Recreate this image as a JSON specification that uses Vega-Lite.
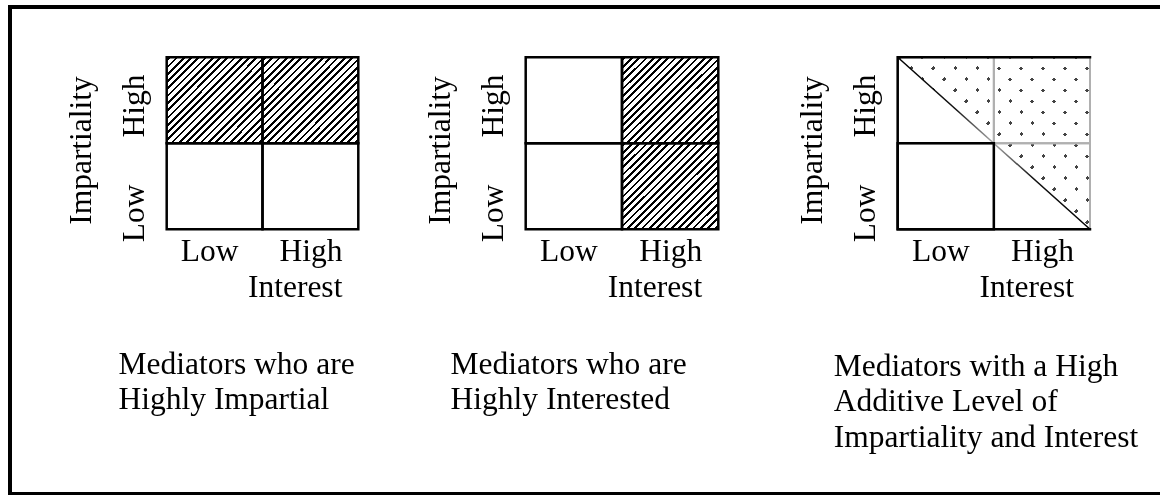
{
  "$schema": "https://vega.github.io/schema/vega-lite/v6.json",
  "width": 1152,
  "height": 487,
  "autosize": "none",
  "padding": {"left": 10, "top": 7, "right": -2, "bottom": 1},
  "background": "white",
  "config": {
    "view": {"stroke": "black", "strokeWidth": 4},
    "axis": {
      "domain": false, "ticks": false, "grid": false,
      "labelFont": "Liberation Serif", "labelFontSize": 31.5, "labelColor": "black",
      "titleFont": "Liberation Serif", "titleFontSize": 31.5, "titleFontWeight": "normal", "titleColor": "black",
      "titleLimit": 2000, "labelLimit": 2000, "labelOverlap": false
    }
  },
  "datasets": {
    "cells": [
      {"panel": 1, "interest": "Low", "impartiality": "High", "shade": "hatched"},
      {"panel": 1, "interest": "High", "impartiality": "High", "shade": "hatched"},
      {"panel": 1, "interest": "Low", "impartiality": "Low", "shade": "none"},
      {"panel": 1, "interest": "High", "impartiality": "Low", "shade": "none"},
      {"panel": 2, "interest": "Low", "impartiality": "High", "shade": "none"},
      {"panel": 2, "interest": "High", "impartiality": "High", "shade": "hatched"},
      {"panel": 2, "interest": "Low", "impartiality": "Low", "shade": "none"},
      {"panel": 2, "interest": "High", "impartiality": "Low", "shade": "hatched"},
      {"panel": 3, "interest": "Low", "impartiality": "High", "shade": "half"},
      {"panel": 3, "interest": "High", "impartiality": "High", "shade": "dotted"},
      {"panel": 3, "interest": "Low", "impartiality": "Low", "shade": "none"},
      {"panel": 3, "interest": "High", "impartiality": "Low", "shade": "half"}
    ],
    "triangle": [
      {"interest": 0, "upper": 2, "lower": 2},
      {"interest": 2, "upper": 2, "lower": 0}
    ],
    "diagonal": [
      {"interest": 0, "impartiality": 2},
      {"interest": 2, "impartiality": 0}
    ],
    "frame": [
      {"order": 1, "interest": 2, "impartiality": 0},
      {"order": 2, "interest": 0, "impartiality": 0},
      {"order": 3, "interest": 0, "impartiality": 2},
      {"order": 4, "interest": 2, "impartiality": 2}
    ]
  },
  "layer": [
    {
      "data": {"name": "cells"},
      "transform": [{"filter": "datum.panel === 1"}],
      "encoding": {
        "x": {"field": "interest", "type": "nominal",
          "scale": {"domain": ["Low", "High"], "range": [156.7, 348.3], "paddingInner": 0, "paddingOuter": 0},
          "axis": {"orient": "bottom", "offset": -264.7,
            "labelExpr": "datum.value === 'High' ? ['High', 'Interest'] : datum.value",
            "labelAlign": {"condition": {"test": "datum.value === 'High'", "value": "right"}, "value": "center"},
            "labelOffset": {"condition": {"test": "datum.value === 'High'", "value": 32}, "value": -5},
            "labelBaseline": "alphabetic", "labelPadding": 30.7, "labelLineHeight": 36.5, "labelAngle": 0,
            "title": ["Mediators who are", "Highly Impartial"],
            "titleAlign": "left", "titleBaseline": "alphabetic", "titleX": 108, "titleY": 143.7, "titleLineHeight": 35.5}},
        "y": {"field": "impartiality", "type": "nominal",
          "scale": {"domain": ["High", "Low"], "range": [50.3, 222.3], "paddingInner": 0, "paddingOuter": 0},
          "axis": {"orient": "left", "offset": -156.7,
            "title": "Impartiality", "titleAngle": 270, "titleAlign": "center", "titleBaseline": "alphabetic", "titleX": -76.5, "titleY": 143,
            "labelAngle": 270, "labelAlign": "center", "labelBaseline": "alphabetic", "labelPadding": 23.7,
            "labelOffset": {"condition": {"test": "datum.value === 'Low'", "value": 27}, "value": 5.7}}}
      },
      "layer": [
        {"transform": [{"filter": "datum.shade === 'hatched'"}],
         "mark": {"type": "rect", "strokeWidth": 0, "fill": {"gradient": "linear", "x1": 0, "y1": 0, "x2": 1.052, "y2": 0.942, "stops": [
{"offset":0,"color":"white"},
{"offset":0.01,"color":"white"},{"offset":0.01,"color":"black"},{"offset":0.025,"color":"black"},{"offset":0.025,"color":"white"},
{"offset":0.05,"color":"white"},{"offset":0.05,"color":"black"},{"offset":0.065,"color":"black"},{"offset":0.065,"color":"white"},
{"offset":0.09,"color":"white"},{"offset":0.09,"color":"black"},{"offset":0.105,"color":"black"},{"offset":0.105,"color":"white"},
{"offset":0.13,"color":"white"},{"offset":0.13,"color":"black"},{"offset":0.145,"color":"black"},{"offset":0.145,"color":"white"},
{"offset":0.17,"color":"white"},{"offset":0.17,"color":"black"},{"offset":0.185,"color":"black"},{"offset":0.185,"color":"white"},
{"offset":0.21,"color":"white"},{"offset":0.21,"color":"black"},{"offset":0.225,"color":"black"},{"offset":0.225,"color":"white"},
{"offset":0.25,"color":"white"},{"offset":0.25,"color":"black"},{"offset":0.265,"color":"black"},{"offset":0.265,"color":"white"},
{"offset":0.29,"color":"white"},{"offset":0.29,"color":"black"},{"offset":0.305,"color":"black"},{"offset":0.305,"color":"white"},
{"offset":0.33,"color":"white"},{"offset":0.33,"color":"black"},{"offset":0.345,"color":"black"},{"offset":0.345,"color":"white"},
{"offset":0.37,"color":"white"},{"offset":0.37,"color":"black"},{"offset":0.385,"color":"black"},{"offset":0.385,"color":"white"},
{"offset":0.41,"color":"white"},{"offset":0.41,"color":"black"},{"offset":0.425,"color":"black"},{"offset":0.425,"color":"white"},
{"offset":0.45,"color":"white"},{"offset":0.45,"color":"black"},{"offset":0.465,"color":"black"},{"offset":0.465,"color":"white"},
{"offset":0.49,"color":"white"},{"offset":0.49,"color":"black"},{"offset":0.505,"color":"black"},{"offset":0.505,"color":"white"},
{"offset":0.53,"color":"white"},{"offset":0.53,"color":"black"},{"offset":0.545,"color":"black"},{"offset":0.545,"color":"white"},
{"offset":0.57,"color":"white"},{"offset":0.57,"color":"black"},{"offset":0.585,"color":"black"},{"offset":0.585,"color":"white"},
{"offset":0.61,"color":"white"},{"offset":0.61,"color":"black"},{"offset":0.625,"color":"black"},{"offset":0.625,"color":"white"},
{"offset":0.65,"color":"white"},{"offset":0.65,"color":"black"},{"offset":0.665,"color":"black"},{"offset":0.665,"color":"white"},
{"offset":0.69,"color":"white"},{"offset":0.69,"color":"black"},{"offset":0.705,"color":"black"},{"offset":0.705,"color":"white"},
{"offset":0.73,"color":"white"},{"offset":0.73,"color":"black"},{"offset":0.745,"color":"black"},{"offset":0.745,"color":"white"},
{"offset":0.77,"color":"white"},{"offset":0.77,"color":"black"},{"offset":0.785,"color":"black"},{"offset":0.785,"color":"white"},
{"offset":0.81,"color":"white"},{"offset":0.81,"color":"black"},{"offset":0.825,"color":"black"},{"offset":0.825,"color":"white"},
{"offset":0.85,"color":"white"},{"offset":0.85,"color":"black"},{"offset":0.865,"color":"black"},{"offset":0.865,"color":"white"},
{"offset":0.89,"color":"white"},{"offset":0.89,"color":"black"},{"offset":0.905,"color":"black"},{"offset":0.905,"color":"white"},
{"offset":0.93,"color":"white"},{"offset":0.93,"color":"black"},{"offset":0.945,"color":"black"},{"offset":0.945,"color":"white"},
{"offset":0.97,"color":"white"},{"offset":0.97,"color":"black"},{"offset":0.985,"color":"black"},{"offset":0.985,"color":"white"},
{"offset":1,"color":"white"}]}}},
        {"mark": {"type": "rect", "filled": false, "stroke": "black", "strokeWidth": 2.5}}
      ]
    },
    {
      "data": {"name": "cells"},
      "transform": [{"filter": "datum.panel === 2"}],
      "encoding": {
        "x": {"field": "interest", "type": "nominal",
          "scale": {"domain": ["Low", "High"], "range": [515.7, 708.3], "paddingInner": 0, "paddingOuter": 0},
          "axis": {"orient": "bottom", "offset": -264.7,
            "labelExpr": "datum.value === 'High' ? ['High', 'Interest'] : datum.value",
            "labelAlign": {"condition": {"test": "datum.value === 'High'", "value": "right"}, "value": "center"},
            "labelOffset": {"condition": {"test": "datum.value === 'High'", "value": 32}, "value": -5},
            "labelBaseline": "alphabetic", "labelPadding": 30.7, "labelLineHeight": 36.5, "labelAngle": 0,
            "title": ["Mediators who are", "Highly Interested"],
            "titleAlign": "left", "titleBaseline": "alphabetic", "titleX": 440, "titleY": 143.7, "titleLineHeight": 35.5}},
        "y": {"field": "impartiality", "type": "nominal",
          "scale": {"domain": ["High", "Low"], "range": [50.3, 222.3], "paddingInner": 0, "paddingOuter": 0},
          "axis": {"orient": "left", "offset": -515.7,
            "title": "Impartiality", "titleAngle": 270, "titleAlign": "center", "titleBaseline": "alphabetic", "titleX": -76, "titleY": 143,
            "labelAngle": 270, "labelAlign": "center", "labelBaseline": "alphabetic", "labelPadding": 23.7,
            "labelOffset": {"condition": {"test": "datum.value === 'Low'", "value": 27}, "value": 5.7}}}
      },
      "layer": [
        {"transform": [{"filter": "datum.shade === 'hatched'"}],
         "mark": {"type": "rect", "strokeWidth": 0, "fill": {"gradient": "linear", "x1": 0, "y1": 0, "x2": 1.052, "y2": 0.942, "stops": [
{"offset":0,"color":"white"},
{"offset":0.01,"color":"white"},{"offset":0.01,"color":"black"},{"offset":0.025,"color":"black"},{"offset":0.025,"color":"white"},
{"offset":0.05,"color":"white"},{"offset":0.05,"color":"black"},{"offset":0.065,"color":"black"},{"offset":0.065,"color":"white"},
{"offset":0.09,"color":"white"},{"offset":0.09,"color":"black"},{"offset":0.105,"color":"black"},{"offset":0.105,"color":"white"},
{"offset":0.13,"color":"white"},{"offset":0.13,"color":"black"},{"offset":0.145,"color":"black"},{"offset":0.145,"color":"white"},
{"offset":0.17,"color":"white"},{"offset":0.17,"color":"black"},{"offset":0.185,"color":"black"},{"offset":0.185,"color":"white"},
{"offset":0.21,"color":"white"},{"offset":0.21,"color":"black"},{"offset":0.225,"color":"black"},{"offset":0.225,"color":"white"},
{"offset":0.25,"color":"white"},{"offset":0.25,"color":"black"},{"offset":0.265,"color":"black"},{"offset":0.265,"color":"white"},
{"offset":0.29,"color":"white"},{"offset":0.29,"color":"black"},{"offset":0.305,"color":"black"},{"offset":0.305,"color":"white"},
{"offset":0.33,"color":"white"},{"offset":0.33,"color":"black"},{"offset":0.345,"color":"black"},{"offset":0.345,"color":"white"},
{"offset":0.37,"color":"white"},{"offset":0.37,"color":"black"},{"offset":0.385,"color":"black"},{"offset":0.385,"color":"white"},
{"offset":0.41,"color":"white"},{"offset":0.41,"color":"black"},{"offset":0.425,"color":"black"},{"offset":0.425,"color":"white"},
{"offset":0.45,"color":"white"},{"offset":0.45,"color":"black"},{"offset":0.465,"color":"black"},{"offset":0.465,"color":"white"},
{"offset":0.49,"color":"white"},{"offset":0.49,"color":"black"},{"offset":0.505,"color":"black"},{"offset":0.505,"color":"white"},
{"offset":0.53,"color":"white"},{"offset":0.53,"color":"black"},{"offset":0.545,"color":"black"},{"offset":0.545,"color":"white"},
{"offset":0.57,"color":"white"},{"offset":0.57,"color":"black"},{"offset":0.585,"color":"black"},{"offset":0.585,"color":"white"},
{"offset":0.61,"color":"white"},{"offset":0.61,"color":"black"},{"offset":0.625,"color":"black"},{"offset":0.625,"color":"white"},
{"offset":0.65,"color":"white"},{"offset":0.65,"color":"black"},{"offset":0.665,"color":"black"},{"offset":0.665,"color":"white"},
{"offset":0.69,"color":"white"},{"offset":0.69,"color":"black"},{"offset":0.705,"color":"black"},{"offset":0.705,"color":"white"},
{"offset":0.73,"color":"white"},{"offset":0.73,"color":"black"},{"offset":0.745,"color":"black"},{"offset":0.745,"color":"white"},
{"offset":0.77,"color":"white"},{"offset":0.77,"color":"black"},{"offset":0.785,"color":"black"},{"offset":0.785,"color":"white"},
{"offset":0.81,"color":"white"},{"offset":0.81,"color":"black"},{"offset":0.825,"color":"black"},{"offset":0.825,"color":"white"},
{"offset":0.85,"color":"white"},{"offset":0.85,"color":"black"},{"offset":0.865,"color":"black"},{"offset":0.865,"color":"white"},
{"offset":0.89,"color":"white"},{"offset":0.89,"color":"black"},{"offset":0.905,"color":"black"},{"offset":0.905,"color":"white"},
{"offset":0.93,"color":"white"},{"offset":0.93,"color":"black"},{"offset":0.945,"color":"black"},{"offset":0.945,"color":"white"},
{"offset":0.97,"color":"white"},{"offset":0.97,"color":"black"},{"offset":0.985,"color":"black"},{"offset":0.985,"color":"white"},
{"offset":1,"color":"white"}]}}},
        {"mark": {"type": "rect", "filled": false, "stroke": "black", "strokeWidth": 2.5}}
      ]
    },
    {
      "layer": [
        {
          "data": {"name": "triangle"},
          "mark": {"type": "area", "fill": {"gradient": "linear", "x1": 0, "y1": 0, "x2": 1.0524, "y2": 0.9413, "stops": [
{"offset":0,"color":"white"},
{"offset":0.0016,"color":"white"},{"offset":0.0016,"color":"#444444"},{"offset":0.0126,"color":"#444444"},{"offset":0.0126,"color":"white"},
{"offset":0.062,"color":"white"},{"offset":0.062,"color":"#444444"},{"offset":0.073,"color":"#444444"},{"offset":0.073,"color":"white"},
{"offset":0.1224,"color":"white"},{"offset":0.1224,"color":"#444444"},{"offset":0.1334,"color":"#444444"},{"offset":0.1334,"color":"white"},
{"offset":0.1828,"color":"white"},{"offset":0.1828,"color":"#444444"},{"offset":0.1938,"color":"#444444"},{"offset":0.1938,"color":"white"},
{"offset":0.2432,"color":"white"},{"offset":0.2432,"color":"#444444"},{"offset":0.2542,"color":"#444444"},{"offset":0.2542,"color":"white"},
{"offset":0.3036,"color":"white"},{"offset":0.3036,"color":"#444444"},{"offset":0.3146,"color":"#444444"},{"offset":0.3146,"color":"white"},
{"offset":0.364,"color":"white"},{"offset":0.364,"color":"#444444"},{"offset":0.375,"color":"#444444"},{"offset":0.375,"color":"white"},
{"offset":0.4244,"color":"white"},{"offset":0.4244,"color":"#444444"},{"offset":0.4354,"color":"#444444"},{"offset":0.4354,"color":"white"},
{"offset":0.4848,"color":"white"},{"offset":0.4848,"color":"#444444"},{"offset":0.4958,"color":"#444444"},{"offset":0.4958,"color":"white"},
{"offset":0.5452,"color":"white"},{"offset":0.5452,"color":"#444444"},{"offset":0.5562,"color":"#444444"},{"offset":0.5562,"color":"white"},
{"offset":0.6055,"color":"white"},{"offset":0.6055,"color":"#444444"},{"offset":0.6165,"color":"#444444"},{"offset":0.6165,"color":"white"},
{"offset":0.6659,"color":"white"},{"offset":0.6659,"color":"#444444"},{"offset":0.6769,"color":"#444444"},{"offset":0.6769,"color":"white"},
{"offset":0.7263,"color":"white"},{"offset":0.7263,"color":"#444444"},{"offset":0.7373,"color":"#444444"},{"offset":0.7373,"color":"white"},
{"offset":0.7867,"color":"white"},{"offset":0.7867,"color":"#444444"},{"offset":0.7977,"color":"#444444"},{"offset":0.7977,"color":"white"},
{"offset":0.8471,"color":"white"},{"offset":0.8471,"color":"#444444"},{"offset":0.8581,"color":"#444444"},{"offset":0.8581,"color":"white"},
{"offset":0.9075,"color":"white"},{"offset":0.9075,"color":"#444444"},{"offset":0.9185,"color":"#444444"},{"offset":0.9185,"color":"white"},
{"offset":0.9679,"color":"white"},{"offset":0.9679,"color":"#444444"},{"offset":0.9789,"color":"#444444"},{"offset":0.9789,"color":"white"},
{"offset":1,"color":"white"}]}},
          "encoding": {
            "x": {"field": "interest", "type": "quantitative", "scale": {"domain": [0, 2], "range": [887.7, 1080], "nice": false, "zero": false}, "axis": null},
            "y": {"field": "upper", "type": "quantitative", "scale": {"domain": [0, 2], "range": [222.3, 50.3], "nice": false, "zero": false}, "axis": null},
            "y2": {"field": "lower"}
          }
        },
        {
          "data": {"name": "triangle"},
          "mark": {"type": "area", "blend": "lighten", "fill": {"gradient": "linear", "x1": 0, "y1": 1, "x2": 1.0524, "y2": 0.0587, "stops": [
{"offset":0,"color":"white"},
{"offset":0.0511,"color":"white"},{"offset":0.0511,"color":"#444444"},{"offset":0.0621,"color":"#444444"},{"offset":0.0621,"color":"white"},
{"offset":0.1114,"color":"white"},{"offset":0.1114,"color":"#444444"},{"offset":0.1224,"color":"#444444"},{"offset":0.1224,"color":"white"},
{"offset":0.1718,"color":"white"},{"offset":0.1718,"color":"#444444"},{"offset":0.1828,"color":"#444444"},{"offset":0.1828,"color":"white"},
{"offset":0.2322,"color":"white"},{"offset":0.2322,"color":"#444444"},{"offset":0.2432,"color":"#444444"},{"offset":0.2432,"color":"white"},
{"offset":0.2926,"color":"white"},{"offset":0.2926,"color":"#444444"},{"offset":0.3036,"color":"#444444"},{"offset":0.3036,"color":"white"},
{"offset":0.353,"color":"white"},{"offset":0.353,"color":"#444444"},{"offset":0.364,"color":"#444444"},{"offset":0.364,"color":"white"},
{"offset":0.4134,"color":"white"},{"offset":0.4134,"color":"#444444"},{"offset":0.4244,"color":"#444444"},{"offset":0.4244,"color":"white"},
{"offset":0.4738,"color":"white"},{"offset":0.4738,"color":"#444444"},{"offset":0.4848,"color":"#444444"},{"offset":0.4848,"color":"white"},
{"offset":0.5342,"color":"white"},{"offset":0.5342,"color":"#444444"},{"offset":0.5452,"color":"#444444"},{"offset":0.5452,"color":"white"},
{"offset":0.5946,"color":"white"},{"offset":0.5946,"color":"#444444"},{"offset":0.6056,"color":"#444444"},{"offset":0.6056,"color":"white"},
{"offset":0.655,"color":"white"},{"offset":0.655,"color":"#444444"},{"offset":0.666,"color":"#444444"},{"offset":0.666,"color":"white"},
{"offset":0.7153,"color":"white"},{"offset":0.7153,"color":"#444444"},{"offset":0.7263,"color":"#444444"},{"offset":0.7263,"color":"white"},
{"offset":0.7757,"color":"white"},{"offset":0.7757,"color":"#444444"},{"offset":0.7867,"color":"#444444"},{"offset":0.7867,"color":"white"},
{"offset":0.8361,"color":"white"},{"offset":0.8361,"color":"#444444"},{"offset":0.8471,"color":"#444444"},{"offset":0.8471,"color":"white"},
{"offset":0.8965,"color":"white"},{"offset":0.8965,"color":"#444444"},{"offset":0.9075,"color":"#444444"},{"offset":0.9075,"color":"white"},
{"offset":0.9569,"color":"white"},{"offset":0.9569,"color":"#444444"},{"offset":0.9679,"color":"#444444"},{"offset":0.9679,"color":"white"},
{"offset":1,"color":"white"}]}},
          "encoding": {
            "x": {"field": "interest", "type": "quantitative", "scale": {"domain": [0, 2], "range": [887.7, 1080], "nice": false, "zero": false}, "axis": null},
            "y": {"field": "upper", "type": "quantitative", "scale": {"domain": [0, 2], "range": [222.3, 50.3], "nice": false, "zero": false}, "axis": null},
            "y2": {"field": "lower"}
          }
        },
        {
          "data": {"name": "cells"},
          "transform": [{"filter": "datum.panel === 3"}],
          "mark": {"type": "rect", "filled": false, "stroke": "#b0b0b0", "strokeWidth": 2},
          "encoding": {
            "x": {"field": "interest", "type": "nominal",
              "scale": {"domain": ["Low", "High"], "range": [887.7, 1080], "paddingInner": 0, "paddingOuter": 0},
              "axis": {"orient": "bottom", "offset": -264.7,
                "labelExpr": "datum.value === 'High' ? ['High', 'Interest'] : datum.value",
                "labelAlign": {"condition": {"test": "datum.value === 'High'", "value": "right"}, "value": "center"},
                "labelOffset": {"condition": {"test": "datum.value === 'High'", "value": 32}, "value": -5},
                "labelBaseline": "alphabetic", "labelPadding": 30.7, "labelLineHeight": 36.5, "labelAngle": 0,
                "title": ["Mediators with a High", "Additive Level of", "Impartiality and Interest"],
                "titleAlign": "left", "titleBaseline": "alphabetic", "titleX": 823.3, "titleY": 145.7, "titleLineHeight": 35.5}},
            "y": {"field": "impartiality", "type": "nominal",
              "scale": {"domain": ["High", "Low"], "range": [50.3, 222.3], "paddingInner": 0, "paddingOuter": 0},
              "axis": {"orient": "left", "offset": -887.7,
                "title": "Impartiality", "titleAngle": 270, "titleAlign": "center", "titleBaseline": "alphabetic", "titleX": -76, "titleY": 143,
                "labelAngle": 270, "labelAlign": "center", "labelBaseline": "alphabetic", "labelPadding": 23.7,
                "labelOffset": {"condition": {"test": "datum.value === 'Low'", "value": 27}, "value": 5.7}}}
          }
        },
        {
          "data": {"name": "diagonal"},
          "mark": {"type": "line", "strokeWidth": 1.5, "stroke": {"gradient": "linear", "x1": 0, "y1": 0, "x2": 1, "y2": 1, "stops": [
            {"offset": 0, "color": "black"}, {"offset": 0.3, "color": "#111111"}, {"offset": 0.5, "color": "#aaaaaa"}, {"offset": 0.7, "color": "#111111"}, {"offset": 1, "color": "black"}]}},
          "encoding": {
            "x": {"field": "interest", "type": "quantitative", "scale": {"domain": [0, 2], "range": [887.7, 1080], "nice": false, "zero": false}, "axis": null},
            "y": {"field": "impartiality", "type": "quantitative", "scale": {"domain": [0, 2], "range": [222.3, 50.3], "nice": false, "zero": false}, "axis": null}
          }
        },
        {
          "data": {"name": "cells"},
          "transform": [{"filter": "datum.panel === 3 && datum.shade === 'none'"}],
          "mark": {"type": "rect", "filled": false, "stroke": "black", "strokeWidth": 2.5},
          "encoding": {
            "x": {"field": "interest", "type": "nominal",
              "scale": {"domain": ["Low", "High"], "range": [887.7, 1080], "paddingInner": 0, "paddingOuter": 0}, "axis": null},
            "y": {"field": "impartiality", "type": "nominal",
              "scale": {"domain": ["High", "Low"], "range": [50.3, 222.3], "paddingInner": 0, "paddingOuter": 0}, "axis": null}
          }
        },
        {
          "data": {"name": "frame"},
          "mark": {"type": "line", "stroke": "black", "strokeWidth": 2.5, "strokeJoin": "miter", "strokeCap": "square"},
          "encoding": {
            "x": {"field": "interest", "type": "quantitative", "scale": {"domain": [0, 2], "range": [887.7, 1080], "nice": false, "zero": false}, "axis": null},
            "y": {"field": "impartiality", "type": "quantitative", "scale": {"domain": [0, 2], "range": [222.3, 50.3], "nice": false, "zero": false}, "axis": null},
            "order": {"field": "order", "type": "quantitative"}
          }
        }
      ],
      "resolve": {"scale": {"x": "independent", "y": "independent"}}
    }
  ],
  "resolve": {"scale": {"x": "independent", "y": "independent"}}
}
